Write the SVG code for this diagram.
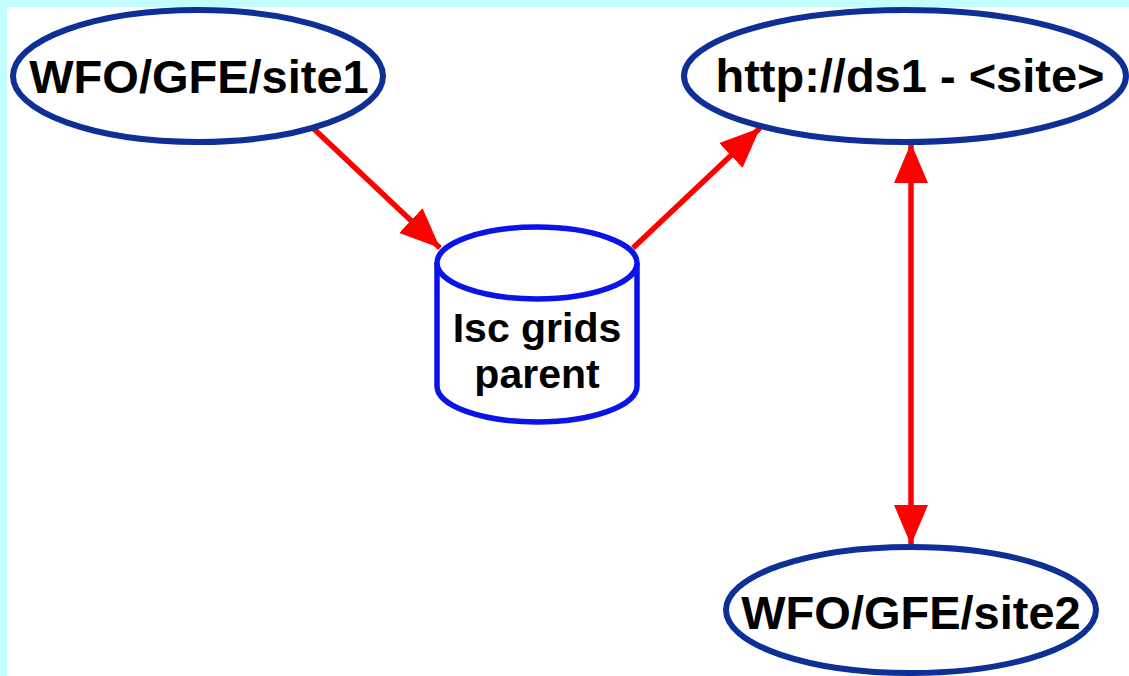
<svg xmlns="http://www.w3.org/2000/svg" width="1129" height="676" viewBox="0 0 1129 676">
  <defs>
    <style>
      .site { fill: #ffffff; stroke: #0d2f96; stroke-width: 6; }
      .db { fill: #ffffff; stroke: #0a14e8; stroke-width: 5.5; }
      .lbl { font-family: "Liberation Sans", Arial, sans-serif; font-weight: bold; fill: #000000; text-anchor: middle; }
      .big { font-size: 47px; }
      .small { font-size: 41px; }
      .link { stroke: #ff0000; stroke-width: 5.5; fill: none; }
    </style>
    <marker id="head" viewBox="0 0 40 34" refX="40" refY="17" markerWidth="40" markerHeight="34" markerUnits="userSpaceOnUse" orient="auto-start-reverse">
      <path d="M0,0 L40,17 L0,34 Z" fill="#ff0000"/>
    </marker>
  </defs>

  <!-- page background with cyan margin -->
  <rect x="0" y="0" width="1129" height="676" fill="#c4ffff"/>
  <rect x="7" y="7" width="1122" height="669" fill="#ffffff"/>

  <!-- connectors -->
  <g id="connectors">
    <line class="link" x1="314" y1="129" x2="440" y2="248" marker-end="url(#head)"/>
    <line class="link" x1="633" y1="248" x2="760" y2="128" marker-end="url(#head)"/>
    <line class="link" x1="911" y1="143" x2="911" y2="545" marker-start="url(#head)" marker-end="url(#head)"/>
  </g>

  <g id="site1">
    <ellipse class="site" cx="198" cy="76" rx="185" ry="66"/>
    <text class="lbl big" x="199" y="93">WFO/GFE/site1</text>
  </g>

  <g id="ds1">
    <ellipse class="site" cx="905" cy="76" rx="221" ry="66"/>
    <text class="lbl big" x="910" y="92">http://ds1 - &lt;site&gt;</text>
  </g>

  <g id="isc-grids">
    <path class="db" d="M437,263 L437,386 A100,36 0 0 0 637,386 L637,263"/>
    <ellipse class="db" cx="537" cy="263" rx="100" ry="36"/>
    <text class="lbl small" x="537" y="342">Isc grids</text>
    <text class="lbl small" x="537" y="388">parent</text>
  </g>

  <g id="site2">
    <ellipse class="site" cx="911" cy="610" rx="185" ry="63"/>
    <text class="lbl big" x="911" y="629">WFO/GFE/site2</text>
  </g>
</svg>
